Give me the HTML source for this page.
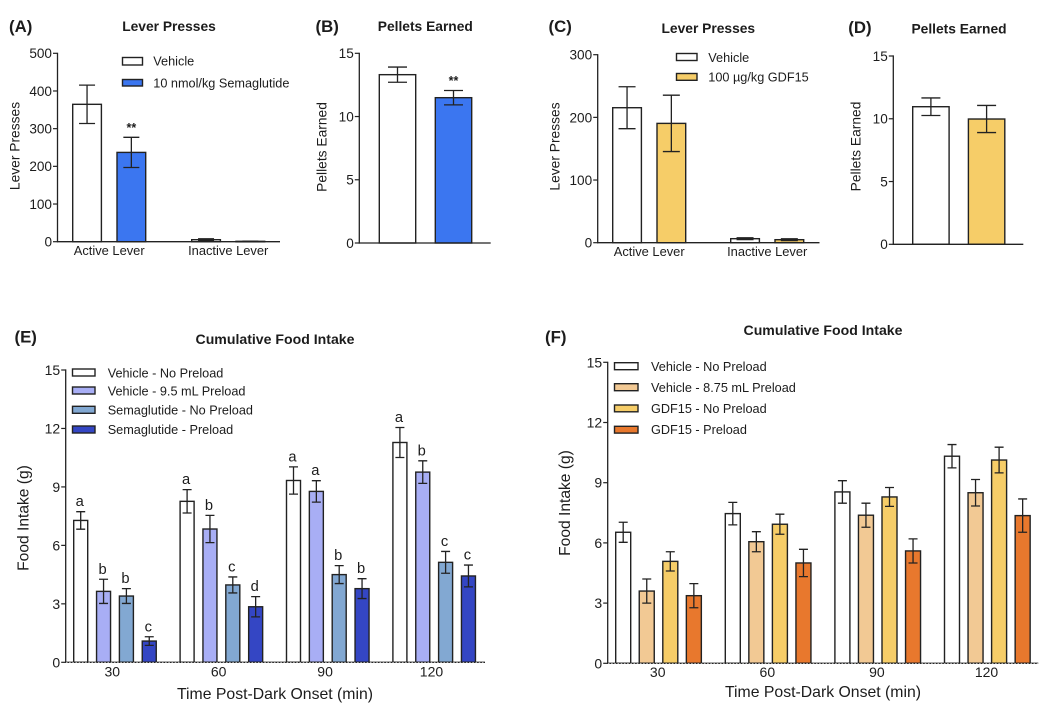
<!DOCTYPE html>
<html lang="en">
<head>
<meta charset="utf-8">
<title>Lever presses, pellets earned and cumulative food intake</title>
<style>
html,body{margin:0;padding:0;background:#fff;width:1050px;height:707px;overflow:hidden}
svg{display:block;font-family:"Liberation Sans",Arial,sans-serif;fill:#1c1c1c}
.pl{font-size:16.8px;font-weight:bold}
.ti{font-size:13.8px;font-weight:bold;text-anchor:middle}
.tib{font-size:14.1px;font-weight:bold;text-anchor:middle}
.at{font-size:13.8px;text-anchor:middle}
.atb{font-size:15.6px;text-anchor:middle}
.xt{font-size:15.8px;text-anchor:middle}
.lg{font-size:12.7px}
.sw{stroke:#222;stroke-width:1.4}
</style>
</head>
<body>
<svg id="figure" width="1050" height="707" viewBox="0 0 1050 707" xmlns="http://www.w3.org/2000/svg">
  <rect width="1050" height="707" fill="#fff"/>

  <text class="pl" x="9" y="32">(A)</text>
  <text class="ti" x="169" y="31">Lever Presses</text>
  <text class="at" transform="translate(19.5,146) rotate(-90)">Lever Presses</text>
  <g>
    <rect class="sw" x="122.5" y="57.5" width="20" height="7.5" fill="#fff"/>
    <text class="lg" x="153.3" y="65.7">Vehicle</text>
    <rect class="sw" x="122.5" y="79.5" width="20" height="6.5" fill="#3b76f0"/>
    <text class="lg" x="153.3" y="87.3">10 nmol/kg Semaglutide</text>
  </g>

  <text class="pl" x="315.5" y="32">(B)</text>
  <text class="ti" x="425.3" y="31">Pellets Earned</text>
  <text class="at" transform="translate(326.7,147) rotate(-90)">Pellets Earned</text>

  <text class="pl" x="548.5" y="32">(C)</text>
  <text class="ti" x="708.3" y="33">Lever Presses</text>
  <text class="at" transform="translate(559.3,146.5) rotate(-90)">Lever Presses</text>
  <g>
    <rect class="sw" x="676.5" y="53.5" width="20.5" height="7" fill="#fff"/>
    <text class="lg" x="708.3" y="62">Vehicle</text>
    <rect class="sw" x="676.5" y="73.5" width="20.5" height="6.8" fill="#f6cd68"/>
    <text class="lg" x="708.3" y="81.7">100 µg/kg GDF15</text>
  </g>

  <text class="pl" x="848.3" y="33">(D)</text>
  <text class="ti" x="959" y="33.5">Pellets Earned</text>
  <text class="at" transform="translate(860.7,146.5) rotate(-90)">Pellets Earned</text>

  <text class="pl" x="14.5" y="342.7">(E)</text>
  <text class="tib" x="275" y="344">Cumulative Food Intake</text>
  <text class="atb" transform="translate(28.5,518) rotate(-90)">Food Intake (g)</text>
  <text class="xt" x="275" y="699">Time Post-Dark Onset (min)</text>
  <g>
    <rect class="sw" x="72.5" y="369" width="22.5" height="7" fill="#fff"/>
    <text class="lg" x="107.7" y="377.3">Vehicle - No Preload</text>
    <rect class="sw" x="72.5" y="387" width="22.5" height="7" fill="#a8aef5"/>
    <text class="lg" x="107.7" y="395.3">Vehicle - 9.5 mL Preload</text>
    <rect class="sw" x="72.5" y="406.3" width="22.5" height="7" fill="#82a8d2"/>
    <text class="lg" x="107.7" y="414.3">Semaglutide - No Preload</text>
    <rect class="sw" x="72.5" y="426" width="22.5" height="7" fill="#3446c4"/>
    <text class="lg" x="107.7" y="434">Semaglutide - Preload</text>
  </g>

  <text class="pl" x="545" y="342.7">(F)</text>
  <text class="tib" x="823" y="335">Cumulative Food Intake</text>
  <text class="atb" transform="translate(570,503) rotate(-90)">Food Intake (g)</text>
  <text class="xt" x="823" y="697">Time Post-Dark Onset (min)</text>
  <g>
    <rect class="sw" x="614.5" y="362.7" width="23.5" height="7" fill="#fff"/>
    <text class="lg" x="651" y="371">Vehicle - No Preload</text>
    <rect class="sw" x="614.5" y="383.7" width="23.5" height="7" fill="#f2c994"/>
    <text class="lg" x="651" y="392">Vehicle - 8.75 mL Preload</text>
    <rect class="sw" x="614.5" y="405" width="23.5" height="6.8" fill="#f6cd68"/>
    <text class="lg" x="651" y="413">GDF15 - No Preload</text>
    <rect class="sw" x="614.5" y="426.3" width="23.5" height="6.8" fill="#e8782d"/>
    <text class="lg" x="651" y="434">GDF15 - Preload</text>
  </g>
</svg>
<script>
// Panel A data
var leverCategories = ['Active Lever', 'Inactive Lever'];
var aTicks = [0, 100, 200, 300, 400, 500];
var aValues = [[364.6, 237], [5.3, 1]];
var aErrors = [[51, 40], [2.5, 0.5]];
var aMarks = [['', '**'], ['', '']];
// Panel B data
var pelletCategories = [''];
var bTicks = [0, 5, 10, 15];
var bValues = [[13.31, 11.49]];
var bErrors = [[0.6, 0.57]];
var bMarks = [['', '**']];
// Panel C data
var cTicks = [0, 100, 200, 300];
var cValues = [[215.4, 190.4], [6.4, 4.8]];
var cErrors = [[33.5, 45], [1.5, 1.5]];
// Panel D data
var dTicks = [0, 5, 10, 15];
var dValues = [[10.96, 9.98]];
var dErrors = [[0.7, 1.08]];
// Panel E data
var timeCategories = ['30', '60', '90', '120'];
var intakeTicks = [0, 3, 6, 9, 12, 15];
var eValues = [[7.28, 3.64, 3.4, 1.09], [8.26, 6.84, 3.97, 2.85], [9.33, 8.77, 4.5, 3.78], [11.28, 9.76, 5.13, 4.43]];
var eErrors = [[0.45, 0.62, 0.38, 0.22], [0.6, 0.7, 0.41, 0.52], [0.7, 0.55, 0.46, 0.51], [0.77, 0.58, 0.56, 0.56]];
var eLetters = [['a', 'b', 'b', 'c'], ['a', 'b', 'c', 'd'], ['a', 'a', 'b', 'b'], ['a', 'b', 'c', 'c']];
// Panel F data
var fValues = [[6.53, 3.6, 5.08, 3.37], [7.46, 6.06, 6.93, 5.0], [8.54, 7.38, 8.29, 5.6], [10.32, 8.5, 10.13, 7.36]];
var fErrors = [[0.5, 0.6, 0.48, 0.6], [0.56, 0.5, 0.5, 0.68], [0.56, 0.6, 0.47, 0.6], [0.58, 0.66, 0.64, 0.83]];

var NS = 'http://www.w3.org/2000/svg';
var fig = document.getElementById('figure');

function mk(tag, attrs, parent, txt) {
  var e = document.createElementNS(NS, tag);
  for (var k in attrs) e.setAttribute(k, attrs[k]);
  if (txt !== undefined) e.textContent = txt;
  parent.appendChild(e);
  return e;
}

function drawPanel(p) {
  var g = mk('g', {}, fig);
  
  
  var yMax = p.ticks[p.ticks.length - 1];
  function yPos(v) { return p.y0 - (v / yMax) * (p.y0 - p.yTop); }
  function xPos(gi, si) { return p.first + gi * p.groupStep + si * p.barStep; }

  p.values.forEach(function (row, gi) {
    row.forEach(function (v, si) {
      var x = xPos(gi, si), top = yPos(v), cx = x + p.barW / 2;
      var bar = mk('rect', { x: x, y: top, width: p.barW, height: Math.max(p.y0 - top, 0.5), fill: p.colors[si], stroke: '#222', 'stroke-width': 1.4 }, g);
      
      
      var e = p.errors[gi][si], hi = yPos(v + e), lo = yPos(v - e);
      var err = mk('path', { d: 'M' + cx + ' ' + hi + 'V' + lo + 'M' + (cx - p.cap / 2) + ' ' + hi + 'H' + (cx + p.cap / 2) + 'M' + (cx - p.cap / 2) + ' ' + lo + 'H' + (cx + p.cap / 2), fill: 'none', stroke: '#222', 'stroke-width': 1.3 }, g);
      
      
      if (p.letters && p.letters[gi][si]) {
        var lt = mk('text', { x: cx - 1, y: hi - 5.5, 'text-anchor': 'middle', 'font-size': 14.7 }, g, p.letters[gi][si]);
        
        
      }
      if (p.marks && p.marks[gi][si]) {
        var mt = mk('text', { x: cx, y: hi - 5.5, 'text-anchor': 'middle', 'font-size': 12.5, 'font-weight': 'bold' }, g, p.marks[gi][si]);
        
        
      }
    });
  });

  var yAxis = mk('line', { x1: p.axisX, x2: p.axisX, y1: p.yTop - 0.6, y2: p.y0 + 0.6, stroke: '#222', 'stroke-width': 1.3 }, g);
  
  
  var xAxis = mk('line', { x1: p.axisX - 0.6, x2: p.xEnd, y1: p.y0, y2: p.y0, stroke: '#222', 'stroke-width': 1.3 }, g);
  
  
  if (p.dotted) {
    var dot = mk('line', { x1: p.axisX - 3, x2: p.xEnd, y1: p.y0, y2: p.y0, stroke: '#fff', 'stroke-width': 0.6, 'stroke-dasharray': '1.6 1.6' }, g);
    
    
  }

  p.ticks.forEach(function (t) {
    var y = yPos(t);
    var tick = mk('line', { x1: p.axisX - 4.5, x2: p.axisX, y1: y, y2: y, stroke: '#222', 'stroke-width': 1.2 }, g);
    
    
    var lab = mk('text', { x: p.axisX - 5.5, y: y + p.tickSize * 0.36, 'text-anchor': 'end', 'font-size': p.tickSize }, g, t);
    
    
  });

  p.categories.forEach(function (c, gi) {
    if (!c) return;
    var n = p.values[gi].length;
    var cx = xPos(gi, 0) + ((n - 1) * p.barStep + p.barW) / 2 + p.catShift;
    var lab = mk('text', { x: cx, y: p.catY, 'text-anchor': 'middle', 'font-size': p.catSize }, g, c);
    
    
  });
}

var W = '#ffffff', BLUE = '#3b76f0', GOLD = '#f6cd68';

drawPanel({ id: 'a', ticks: aTicks, values: aValues, errors: aErrors, marks: aMarks, categories: leverCategories, colors: [W, BLUE],
  axisX: 57.5, xEnd: 280, y0: 241.7, yTop: 53.3, first: 72.7, groupStep: 119, barStep: 44.3, barW: 28.7, cap: 16, tickSize: 13.6, catSize: 12.9, catY: 255, catShift: 0 });
drawPanel({ id: 'b', ticks: bTicks, values: bValues, errors: bErrors, marks: bMarks, categories: pelletCategories, colors: [W, BLUE],
  axisX: 359.3, xEnd: 490.7, y0: 243, yTop: 53.3, first: 379.3, groupStep: 0, barStep: 56, barW: 36.4, cap: 19, tickSize: 13.6, catSize: 12.9, catY: 255, catShift: 0 });
drawPanel({ id: 'c', ticks: cTicks, values: cValues, errors: cErrors, categories: leverCategories, colors: [W, GOLD],
  axisX: 597.7, xEnd: 819.5, y0: 242.7, yTop: 54.7, first: 612.7, groupStep: 118, barStep: 44.3, barW: 28.7, cap: 17, tickSize: 13.6, catSize: 12.9, catY: 256, catShift: 0 });
drawPanel({ id: 'd', ticks: dTicks, values: dValues, errors: dErrors, categories: pelletCategories, colors: [W, GOLD],
  axisX: 893.3, xEnd: 1023.3, y0: 244.3, yTop: 56, first: 912.7, groupStep: 0, barStep: 55.7, barW: 36.4, cap: 19, tickSize: 13.6, catSize: 12.9, catY: 255, catShift: 0 });
drawPanel({ id: 'e', ticks: intakeTicks, values: eValues, errors: eErrors, letters: eLetters, categories: timeCategories, colors: [W, '#a8aef5', '#82a8d2', '#3446c4'],
  axisX: 65.7, xEnd: 485, y0: 662.3, yTop: 370, first: 73.7, groupStep: 106.4, barStep: 22.85, barW: 14, cap: 9, tickSize: 14, catSize: 14, catY: 676.7, catShift: -2.7, dotted: true });
drawPanel({ id: 'f', ticks: intakeTicks, values: fValues, errors: fErrors, categories: timeCategories, colors: [W, '#f2c994', GOLD, '#e8782d'],
  axisX: 607.7, xEnd: 1038.3, y0: 663.3, yTop: 362.3, first: 615.7, groupStep: 109.6, barStep: 23.55, barW: 15, cap: 9, tickSize: 14, catSize: 14, catY: 677, catShift: -0.8, dotted: true });
</script>
</body>
</html>
